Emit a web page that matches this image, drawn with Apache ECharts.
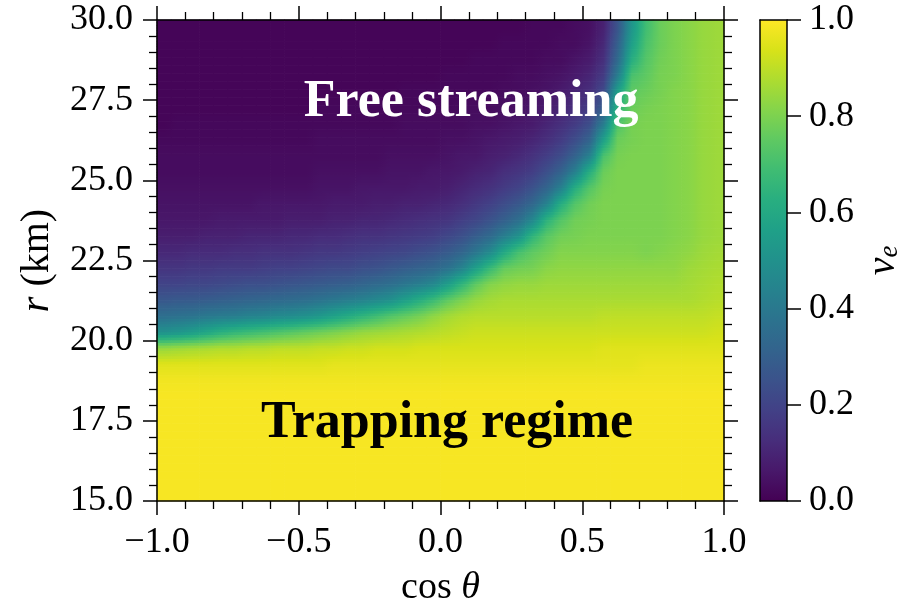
<!DOCTYPE html>
<html>
<head>
<meta charset="utf-8">
<script src="https://cdn.jsdelivr.net/npm/echarts@6/dist/echarts.min.js"></script>
<style>
html,body{margin:0;padding:0;background:#fff;}
#chart{width:911px;height:601px;}
</style>
</head>
<body>
<div id="chart"></div>
<script>
// ---- data ----
// column centres (cos theta) and row centres (r, km), rows listed from top (30 km) to bottom (15 km)
const cosCols = [-0.975,-0.925,-0.875,-0.825,-0.775,-0.725,-0.675,-0.625,-0.575,-0.525,
                 -0.475,-0.425,-0.375,-0.325,-0.275,-0.225,-0.175,-0.125,-0.075,-0.025,
                  0.025, 0.075, 0.125, 0.175, 0.225, 0.275, 0.325, 0.375, 0.425, 0.475,
                  0.525, 0.575, 0.625, 0.675, 0.725, 0.775, 0.825, 0.875, 0.925, 0.975];
const rRows = [29.75,29.25,28.75,28.25,27.75,27.25,26.75,26.25,25.75,25.25,
               24.75,24.25,23.75,23.25,22.75,22.25,21.75,21.25,20.75,20.25,
               19.75,19.25,18.75,18.25,17.75,17.25,16.75,16.25,15.75,15.25];
// nu_e value in each cell (row = rRows, column = cosCols)
const nue = [
 [.01,.01,.01,.01,.01,.01,.01,.01,.01,.01, .01,.01,.01,.01,.01,.01,.01,.01,.01,.01, .01,.01,.01,.01,.01,.01,.02,.02,.02,.03, .04,.09,.26,.52,.69,.77,.80,.82,.84,.85],
 [.01,.01,.01,.01,.01,.01,.01,.01,.01,.01, .01,.01,.01,.01,.01,.01,.01,.01,.01,.01, .01,.01,.01,.01,.02,.02,.02,.02,.03,.03, .05,.11,.30,.56,.71,.77,.80,.82,.84,.85],
 [.01,.01,.01,.01,.01,.01,.01,.01,.01,.01, .01,.01,.01,.01,.01,.01,.01,.01,.01,.01, .01,.01,.02,.02,.02,.02,.02,.03,.03,.05, .07,.13,.34,.62,.73,.78,.80,.82,.84,.85],
 [.01,.01,.01,.01,.01,.01,.01,.01,.01,.01, .01,.01,.01,.01,.01,.01,.01,.01,.01,.01, .02,.02,.02,.02,.02,.03,.03,.04,.05,.07, .10,.17,.42,.71,.75,.79,.80,.82,.84,.85],
 [.01,.01,.01,.01,.01,.01,.01,.01,.01,.01, .01,.01,.01,.01,.01,.01,.01,.02,.02,.02, .02,.02,.02,.02,.03,.03,.04,.05,.07,.10, .13,.22,.56,.75,.77,.79,.81,.82,.84,.85],
 [.01,.01,.01,.01,.01,.01,.01,.01,.01,.01, .01,.02,.02,.02,.02,.02,.02,.02,.02,.02, .02,.03,.03,.03,.04,.04,.06,.07,.10,.13, .17,.30,.64,.77,.79,.80,.81,.82,.84,.85],
 [.01,.02,.02,.02,.02,.02,.02,.02,.02,.02, .02,.02,.02,.02,.02,.02,.02,.03,.03,.03, .03,.03,.04,.04,.05,.06,.07,.10,.13,.17, .23,.41,.72,.79,.80,.80,.81,.82,.84,.85],
 [.02,.02,.02,.02,.02,.02,.02,.02,.02,.02, .02,.03,.03,.03,.03,.03,.03,.03,.03,.03, .04,.04,.05,.06,.07,.08,.10,.13,.17,.23, .31,.56,.77,.79,.80,.80,.81,.82,.84,.85],
 [.03,.03,.03,.03,.03,.03,.03,.03,.03,.03, .03,.03,.03,.03,.03,.03,.04,.04,.04,.04, .05,.06,.06,.08,.09,.11,.14,.18,.23,.31, .43,.71,.79,.80,.80,.80,.81,.82,.84,.85],
 [.03,.03,.03,.03,.03,.03,.03,.03,.03,.03, .03,.04,.04,.04,.04,.04,.05,.05,.05,.06, .06,.07,.09,.10,.13,.15,.18,.24,.31,.43, .62,.77,.80,.80,.80,.80,.81,.82,.84,.85],
 [.04,.04,.04,.04,.04,.04,.04,.04,.04,.04, .04,.05,.05,.05,.06,.06,.06,.06,.07,.07, .08,.10,.12,.14,.17,.20,.25,.32,.43,.62, .73,.79,.80,.80,.80,.80,.81,.82,.84,.85],
 [.05,.05,.05,.05,.05,.05,.05,.06,.06,.06, .06,.06,.07,.07,.07,.08,.08,.09,.09,.10, .11,.13,.16,.19,.23,.27,.33,.44,.62,.73, .78,.80,.80,.80,.80,.80,.81,.82,.84,.85],
 [.06,.06,.06,.06,.07,.07,.07,.07,.07,.08, .08,.08,.09,.09,.10,.10,.11,.12,.13,.14, .15,.18,.21,.25,.30,.36,.46,.64,.73,.78, .79,.80,.80,.80,.80,.80,.81,.82,.84,.85],
 [.08,.08,.08,.09,.09,.09,.10,.10,.10,.11, .11,.12,.12,.13,.14,.14,.15,.16,.17,.18, .21,.24,.29,.34,.42,.50,.65,.74,.78,.79, .80,.80,.80,.80,.80,.80,.81,.82,.84,.85],
 [.11,.11,.12,.12,.12,.13,.13,.14,.14,.14, .15,.16,.16,.17,.18,.19,.20,.21,.23,.25, .28,.32,.39,.47,.60,.70,.75,.78,.81,.81, .81,.81,.81,.81,.80,.81,.82,.83,.85,.86],
 [.15,.15,.16,.16,.17,.17,.17,.18,.19,.19, .20,.21,.22,.22,.24,.25,.27,.29,.31,.33, .37,.44,.56,.67,.76,.78,.79,.82,.83,.83, .83,.83,.83,.83,.83,.83,.83,.85,.86,.87],
 [.20,.20,.21,.21,.22,.23,.24,.24,.25,.26, .27,.28,.29,.30,.32,.34,.36,.39,.42,.46, .55,.65,.75,.81,.83,.84,.84,.85,.85,.85, .85,.85,.85,.85,.85,.85,.85,.86,.87,.88],
 [.27,.28,.28,.29,.30,.31,.32,.33,.34,.35, .36,.38,.40,.42,.44,.47,.50,.56,.62,.68, .75,.80,.84,.86,.87,.87,.87,.87,.87,.87, .87,.87,.87,.87,.87,.87,.87,.87,.88,.89],
 [.36,.37,.38,.40,.41,.42,.44,.45,.47,.48, .50,.53,.57,.61,.65,.69,.73,.76,.79,.83, .86,.88,.89,.89,.89,.89,.89,.89,.89,.89, .89,.90,.90,.90,.90,.90,.90,.90,.90,.91],
 [.50,.52,.55,.59,.63,.66,.68,.70,.72,.74, .76,.78,.80,.82,.84,.85,.86,.87,.88,.89, .90,.91,.92,.92,.92,.92,.92,.92,.92,.92, .92,.92,.92,.92,.92,.92,.92,.92,.92,.93],
 [.84,.85,.86,.87,.88,.88,.89,.89,.90,.90, .90,.91,.91,.92,.92,.93,.93,.93,.94,.94, .94,.94,.94,.94,.94,.94,.94,.94,.94,.94, .94,.95,.95,.95,.95,.95,.95,.95,.95,.95],
 [.95,.95,.95,.95,.95,.95,.95,.95,.95,.95, .95,.95,.96,.96,.96,.96,.96,.96,.96,.96, .96,.96,.96,.96,.96,.96,.96,.96,.96,.96, .96,.96,.96,.96,.97,.97,.97,.97,.97,.97],
 [.98,.98,.98,.98,.98,.98,.98,.98,.98,.98, .98,.98,.98,.98,.98,.98,.98,.98,.98,.98, .98,.98,.98,.98,.98,.98,.98,.98,.98,.98, .98,.98,.98,.98,.98,.98,.98,.98,.98,.98],
 [.99,.99,.99,.99,.99,.99,.99,.99,.99,.99, .99,.99,.99,.99,.99,.99,.99,.99,.99,.99, .99,.99,.99,.99,.99,.99,.99,.99,.99,.99, .99,.99,.99,.99,.99,.99,.99,.99,.99,.99],
 [.99,.99,.99,.99,.99,.99,.99,.99,.99,.99, .99,.99,.99,.99,.99,.99,.99,.99,.99,.99, .99,.99,.99,.99,.99,.99,.99,.99,.99,.99, .99,.99,.99,.99,.99,.99,.99,.99,.99,.99],
 [.99,.99,.99,.99,.99,.99,.99,.99,.99,.99, .99,.99,.99,.99,.99,.99,.99,.99,.99,.99, .99,.99,.99,.99,.99,.99,.99,.99,.99,.99, .99,.99,.99,.99,.99,.99,.99,.99,.99,.99],
 [.99,.99,.99,.99,.99,.99,.99,.99,.99,.99, .99,.99,.99,.99,.99,.99,.99,.99,.99,.99, .99,.99,.99,.99,.99,.99,.99,.99,.99,.99, .99,.99,.99,.99,.99,.99,.99,.99,.99,.99],
 [.99,.99,.99,.99,.99,.99,.99,.99,.99,.99, .99,.99,.99,.99,.99,.99,.99,.99,.99,.99, .99,.99,.99,.99,.99,.99,.99,.99,.99,.99, .99,.99,.99,.99,.99,.99,.99,.99,.99,.99],
 [.99,.99,.99,.99,.99,.99,.99,.99,.99,.99, .99,.99,.99,.99,.99,.99,.99,.99,.99,.99, .99,.99,.99,.99,.99,.99,.99,.99,.99,.99, .99,.99,.99,.99,.99,.99,.99,.99,.99,.99],
 [.99,.99,.99,.99,.99,.99,.99,.99,.99,.99, .99,.99,.99,.99,.99,.99,.99,.99,.99,.99, .99,.99,.99,.99,.99,.99,.99,.99,.99,.99, .99,.99,.99,.99,.99,.99,.99,.99,.99,.99]
];
// axis ranges and ticks
const xRange = [-1, 1], xTickStep = 0.5;
const yRange = [15, 30], yTickStep = 2.5;
const cbarRange = [0, 1], cbarTickStep = 0.2;
// text annotations (position in data coordinates)
const annText = ['Free streaming', 'Trapping regime'];
const annCos = [0.108, 0.023];
const annR = [27.44, 17.43];
const annColor = ['#ffffff', '#000000'];

// ---- viridis colormap ----
const viridisStops = ['#440154','#48186a','#472d7b','#424086','#3b528b','#33638d','#2c728e','#26828e',
  '#21918c','#1fa088','#28ae80','#3fbc73','#5ec962','#84d44b','#addc30','#d8e219','#fde725'];
const viridisRGB = viridisStops.map(h => [parseInt(h.slice(1,3),16), parseInt(h.slice(3,5),16), parseInt(h.slice(5,7),16)]);
function viridis(v) {
  v = Math.max(0, Math.min(1, v));
  const n = viridisRGB.length - 1;
  const t = v * n;
  const k = Math.min(Math.floor(t), n - 1);
  const f = t - k;
  const a = viridisRGB[k], b = viridisRGB[k + 1];
  return 'rgb(' + Math.round(a[0] + (b[0]-a[0])*f) + ',' + Math.round(a[1] + (b[1]-a[1])*f) + ',' + Math.round(a[2] + (b[2]-a[2])*f) + ')';
}

const nCols = cosCols.length, nRows = rRows.length;
const halfW = Math.abs(cosCols[1] - cosCols[0]) / 2;
const halfH = Math.abs(rRows[0] - rRows[1]) / 2;

const cells = [];
for (let j = 0; j < nRows; j++) {
  for (let i = 0; i < nCols; i++) {
    cells.push([cosCols[i], rRows[j], nue[j][i], i, j]);
  }
}

function renderCell(params, api) {
  const c = api.value(0), r = api.value(1);
  const i = api.value(3), j = api.value(4);
  const tl = api.coord([c - halfW, r + halfH]);
  const br = api.coord([c + halfW, r - halfH]);
  const w = br[0] - tl[0], h = br[1] - tl[1];
  const nSub = 6;
  const im = Math.max(i - 1, 0), ip = Math.min(i + 1, nCols - 1);
  const children = [];
  for (let k = 0; k < nSub; k++) {
    const fy = (k + 0.5) / nSub - 0.5;
    const jn = fy < 0 ? Math.max(j - 1, 0) : Math.min(j + 1, nRows - 1);
    const a = Math.abs(fy);
    const W = p => (1 - a) * nue[j][p] + a * nue[jn][p];
    const wm = W(im), w0 = W(i), wp = W(ip);
    const stops = [];
    [-0.5, -0.25, 0, 0.25, 0.5].forEach(fx => {
      const b = Math.abs(fx);
      const v = (1 - b) * w0 + b * (fx < 0 ? wm : wp);
      stops.push({ offset: fx + 0.5, color: viridis(v) });
    });
    children.push({
      type: 'rect',
      shape: { x: tl[0] - 0.35, y: tl[1] + k * h / nSub - 0.35, width: w + 0.7, height: h / nSub + 0.7 },
      style: { fill: new echarts.graphic.LinearGradient(0, 0, 1, 0, stops) }
    });
  }
  return { type: 'group', children: children };
}

function renderColorbar(params, api) {
  const tl = api.coord([0, cbarRange[1]]);
  const br = api.coord([1, cbarRange[0]]);
  const stops = viridisStops.map((col, k) => ({ offset: k / (viridisStops.length - 1), color: col }));
  return {
    type: 'rect',
    shape: { x: tl[0], y: tl[1], width: br[0] - tl[0], height: br[1] - tl[1] },
    style: { fill: new echarts.graphic.LinearGradient(0, 1, 0, 0, stops) }
  };
}

function renderText(params, api) {
  const p = api.coord([api.value(0), api.value(1)]);
  const idx = params.dataIndex;
  return {
    type: 'text',
    x: p[0], y: p[1],
    style: {
      text: annText[idx],
      fill: annColor[idx],
      font: 'bold 52px "Liberation Serif", serif',
      align: 'center',
      verticalAlign: 'middle'
    },
    z2: 100
  };
}

const FONT = '"Liberation Serif", "DejaVu Serif", serif';
const fmt = v => (v < 0 ? '\u2212' + Math.abs(v).toFixed(1) : v.toFixed(1));
const lineSt = { color: '#000', width: 1.5 };

function mainAxis(extra) {
  return Object.assign({
    type: 'value', z: 10,
    axisLine: { show: true, onZero: false, lineStyle: lineSt },
    axisTick: { show: true, inside: false, length: 14, lineStyle: lineSt },
    minorTick: { show: true, splitNumber: 5, length: 8, lineStyle: { color: '#000', width: 1.3 } },
    splitLine: { show: false }, minorSplitLine: { show: false },
    axisLabel: { show: false }
  }, extra);
}
const labelStyle = { show: true, fontSize: 36, fontFamily: FONT, color: '#000', formatter: fmt };

const chart = echarts.init(document.getElementById('chart'), null, { renderer: 'canvas' });
chart.setOption({
  animation: false,
  backgroundColor: '#fff',
  grid: [
    { left: 157, top: 20, width: 567, height: 481, outerBoundsMode: 'none', containLabel: false },
    { left: 760, top: 20, width: 27, height: 481, outerBoundsMode: 'none', containLabel: false }
  ],
  xAxis: [
    mainAxis({ gridIndex: 0, position: 'bottom', min: xRange[0], max: xRange[1], interval: xTickStep,
      axisLabel: Object.assign({ margin: 24 }, labelStyle),
      name: '{n|cos} {i|θ}', nameLocation: 'middle', nameGap: 68,
      nameTextStyle: { fontSize: 38, fontFamily: FONT, color: '#000',
        rich: { n: { fontSize: 38, fontFamily: FONT, color: '#000' }, i: { fontSize: 38, fontFamily: FONT, fontStyle: 'italic', color: '#000' } } } }),
    mainAxis({ gridIndex: 0, position: 'top', min: xRange[0], max: xRange[1], interval: xTickStep }),
    { gridIndex: 1, type: 'value', position: 'bottom', min: 0, max: 1, z: 10,
      axisLine: { show: true, onZero: false, lineStyle: lineSt }, axisTick: { show: false }, axisLabel: { show: false }, splitLine: { show: false } },
    { gridIndex: 1, type: 'value', position: 'top', min: 0, max: 1, z: 10,
      axisLine: { show: true, onZero: false, lineStyle: lineSt }, axisTick: { show: false }, axisLabel: { show: false }, splitLine: { show: false } }
  ],
  yAxis: [
    mainAxis({ gridIndex: 0, position: 'left', min: yRange[0], max: yRange[1], interval: yTickStep,
      axisLabel: Object.assign({ margin: 24 }, labelStyle),
      name: '{i|r} (km)', nameLocation: 'middle', nameRotate: 90, nameGap: 100,
      nameTextStyle: { fontSize: 40, fontFamily: FONT, color: '#000',
        rich: { i: { fontSize: 40, fontFamily: FONT, fontStyle: 'italic', color: '#000' } } } }),
    mainAxis({ gridIndex: 0, position: 'right', min: yRange[0], max: yRange[1], interval: yTickStep }),
    { gridIndex: 1, type: 'value', position: 'right', min: cbarRange[0], max: cbarRange[1], interval: cbarTickStep, z: 10,
      axisLine: { show: true, onZero: false, lineStyle: lineSt },
      axisTick: { show: true, inside: false, length: 14, lineStyle: lineSt },
      minorTick: { show: false }, splitLine: { show: false },
      axisLabel: Object.assign({ margin: 22 }, labelStyle),
      name: '{i|ν}{s|e}', nameLocation: 'middle', nameRotate: 90, nameGap: 76,
      nameTextStyle: { fontSize: 38, fontFamily: FONT, color: '#000',
        rich: { i: { fontSize: 40, fontFamily: FONT, fontStyle: 'italic', color: '#000', lineHeight: 40 },
                s: { fontSize: 27, fontFamily: FONT, fontStyle: 'italic', color: '#000', verticalAlign: 'bottom', lineHeight: 40 } } } },
    { gridIndex: 1, type: 'value', position: 'left', min: cbarRange[0], max: cbarRange[1], z: 10,
      axisLine: { show: true, onZero: false, lineStyle: lineSt }, axisTick: { show: false }, axisLabel: { show: false }, splitLine: { show: false } }
  ],
  series: [
    { type: 'custom', xAxisIndex: 0, yAxisIndex: 0, data: cells, encode: { x: 0, y: 1 },
      renderItem: renderCell, progressive: 0, silent: true, z: 2 },
    { type: 'custom', xAxisIndex: 2, yAxisIndex: 2, data: [[0.5, 0.5]], encode: { x: 0, y: 1 },
      renderItem: renderColorbar, silent: true, z: 2 },
    { type: 'custom', xAxisIndex: 0, yAxisIndex: 0, data: annCos.map((c, k) => [c, annR[k]]), encode: { x: 0, y: 1 },
      renderItem: renderText, silent: true, z: 20 }
  ]
});
</script>
</body>
</html>
